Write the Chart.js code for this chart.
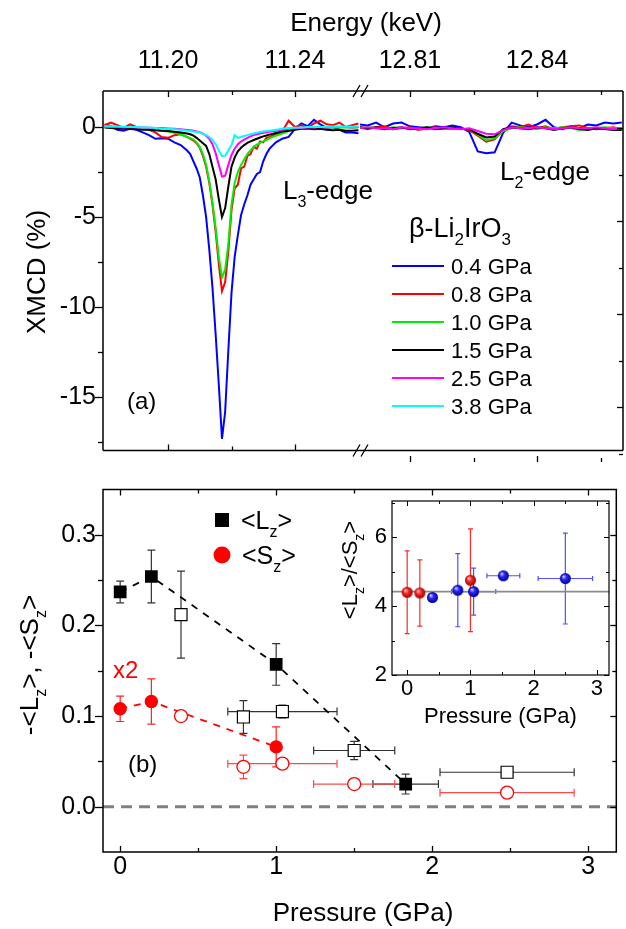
<!DOCTYPE html>
<html>
<head>
<meta charset="utf-8">
<script src="https://cdn.jsdelivr.net/npm/chart.js@4.4.1/dist/chart.umd.min.js"></script>
<style>
html,body{margin:0;padding:0;background:#ffffff;}
#wrap{position:relative;width:626px;height:929px;background:#ffffff;overflow:hidden;}
#wrap canvas{position:absolute;}
</style>
</head>
<body>
<div id="wrap">
  <canvas id="cA" width="626" height="470" style="left:0;top:0;"></canvas>
  <canvas id="cB" width="626" height="470" style="left:0;top:0;"></canvas>
  <canvas id="cC" width="626" height="459" style="left:0;top:470px;"></canvas>
  <canvas id="cD" width="296" height="260" style="left:330px;top:485px;"></canvas>
</div>
<script>
// ---------------- DATA ----------------
const pressureLabels = ['0.4 GPa','0.8 GPa','1.0 GPa','1.5 GPa','2.5 GPa','3.8 GPa'];

const energyL3 = [11.180,11.182,11.184,11.186,11.188,11.190,11.192,11.194,11.196,11.198,11.200,11.202,11.204,11.206,
  11.207,11.208,11.209,11.210,11.211,11.212,11.213,11.214,11.215,11.216,11.217,11.218,11.219,11.220,11.221,11.222,11.223,11.224,11.225,11.226,11.227,11.228,11.229,11.230,11.231,11.232,
  11.234,11.236,11.238,11.240,11.242,11.244,11.246,11.248,11.250,11.252,11.254,11.256,11.258,11.260];

const xmcdL3_04 = [0.15,0.05,-0.15,-0.2,-0.1,-0.15,-0.3,-0.45,-0.65,-0.62,-0.65,-0.85,-1.0,-1.3,
  -1.5,-1.9,-2.3,-2.8,-3.8,-5.0,-6.8,-8.9,-11.5,-14.3,-17.3,-15.8,-12.4,-9.2,-7.2,-6.0,-4.9,-4.3,-3.8,-3.2,-2.9,-2.6,-2.5,-1.9,-1.5,-1.2,
  -0.85,-0.65,-0.55,-0.1,0.2,0.05,0.4,0.15,-0.05,0.0,-0.15,-0.3,-0.3,-0.35];
const xmcdL3_08 = [0.1,0.25,0.1,-0.05,0.15,0.0,-0.1,-0.15,-0.3,-0.55,-0.6,-0.45,-0.4,-0.55,
  -0.65,-0.75,-0.9,-1.15,-1.6,-2.2,-3.1,-4.3,-5.8,-7.6,-9.1,-8.6,-6.9,-4.6,-3.4,-3.2,-2.3,-2.2,-1.6,-1.5,-1.1,-1.2,-0.8,-0.85,-0.6,-0.55,
  -0.4,-0.25,0.35,0.0,0.1,-0.05,0.2,0.35,0.15,0.1,0.25,0.0,0.1,0.2];
const xmcdL3_10 = [0.0,0.0,-0.02,-0.03,-0.05,-0.07,-0.1,-0.12,-0.15,-0.2,-0.25,-0.32,-0.4,-0.55,
  -0.62,-0.7,-0.85,-1.1,-1.5,-2.1,-3.0,-4.2,-5.6,-7.2,-8.35,-7.9,-6.5,-4.3,-3.1,-2.5,-2.1,-1.8,-1.5,-1.3,-1.1,-0.98,-0.88,-0.8,-0.72,-0.62,
  -0.48,-0.36,-0.22,-0.12,-0.06,-0.03,-0.02,-0.02,-0.02,-0.02,-0.03,-0.03,-0.02,-0.02];
const xmcdL3_15 = [-0.02,-0.05,-0.08,-0.1,-0.1,-0.12,-0.15,-0.15,-0.18,-0.2,-0.22,-0.26,-0.3,-0.36,
  -0.4,-0.48,-0.6,-0.75,-0.9,-1.05,-1.5,-2.2,-2.9,-4.0,-5.0,-4.5,-3.3,-2.2,-1.7,-1.35,-1.15,-1.0,-0.88,-0.8,-0.72,-0.65,-0.58,-0.52,-0.47,-0.42,
  -0.33,-0.25,-0.2,-0.15,-0.1,-0.08,-0.12,-0.1,-0.15,-0.18,-0.15,-0.2,-0.2,-0.18];
const xmcdL3_25 = [0.0,0.02,0.0,-0.02,0.0,-0.02,-0.03,-0.04,-0.05,-0.06,-0.08,-0.1,-0.12,-0.16,
  -0.18,-0.2,-0.24,-0.29,-0.36,-0.48,-0.65,-0.95,-1.45,-2.1,-2.75,-2.7,-2.1,-1.55,-1.2,-0.95,-0.8,-0.7,-0.6,-0.52,-0.45,-0.4,-0.36,-0.32,-0.29,-0.26,
  -0.2,-0.15,-0.1,-0.07,-0.05,-0.03,-0.02,0.0,-0.02,0.0,0.02,0.0,-0.02,0.0];
const xmcdL3_38 = [0.05,0.05,0.03,0.02,0.0,0.0,-0.02,-0.03,-0.05,-0.08,-0.1,-0.12,-0.15,-0.2,
  -0.22,-0.25,-0.27,-0.3,-0.38,-0.45,-0.55,-0.72,-0.95,-1.3,-1.62,-1.6,-1.3,-1.0,-0.45,-0.6,-0.55,-0.5,-0.45,-0.4,-0.36,-0.32,-0.28,-0.25,-0.22,-0.2,
  -0.15,-0.1,-0.06,-0.04,-0.02,0.0,0.02,0.0,0.02,0.03,0.02,0.03,0.02,0.03];

const energyL2 = [12.798,12.800,12.802,12.804,12.806,12.808,12.810,12.812,12.814,12.816,12.818,12.820,12.822,12.824,12.826,12.828,
  12.830,12.832,12.834,12.836,12.838,12.840,12.842,12.844,12.846,12.848,12.850,12.852,12.854,12.856,12.858,12.860];
const xmcdL2_04 = [0.2,0.15,0.3,0.05,0.25,0.3,0.1,0.05,0.0,0.1,0.05,0.15,0.05,-0.2,-1.25,-1.35,-1.3,-0.25,0.3,0.15,0.05,0.2,0.45,0.05,-0.05,0.1,0.0,0.2,0.15,0.3,0.25,0.3];
const xmcdL2_08 = [0.05,-0.05,0.05,0.1,-0.05,0.0,0.05,-0.1,0.0,0.05,-0.05,-0.05,0.0,-0.1,-0.4,-0.72,-0.6,-0.1,0.1,0.05,0.2,0.0,0.1,-0.05,0.05,0.1,0.15,0.0,-0.05,0.0,0.05,-0.05];
const xmcdL2_10 = [0.0,0.05,0.0,-0.05,0.05,0.0,0.0,-0.05,0.05,0.0,-0.05,0.0,-0.05,-0.05,-0.35,-0.65,-0.55,-0.15,0.0,0.05,0.0,-0.05,0.05,0.0,0.05,0.0,-0.1,-0.05,0.0,0.05,0.0,0.0];
const xmcdL2_15 = [0.05,0.0,0.05,-0.05,0.0,0.05,-0.05,0.0,0.05,-0.05,0.0,0.05,-0.05,-0.05,-0.3,-0.5,-0.45,-0.05,0.05,0.0,-0.05,0.05,0.0,-0.1,0.0,0.05,-0.05,-0.1,0.0,-0.05,-0.1,-0.1];
const xmcdL2_25 = [0.0,0.05,0.0,0.0,-0.05,0.05,0.0,0.0,-0.05,0.0,0.05,0.0,-0.05,0.0,-0.15,-0.3,-0.33,-0.1,0.05,0.0,0.0,0.05,0.0,-0.05,0.0,0.05,0.0,0.0,0.05,0.0,-0.05,0.0];

const xmcdTicksMajor = [-15,-10,-5,0];
const xmcdTicksMinor = [-17.5,-12.5,-7.5,-2.5];
const energyL3Major = [11.20,11.24];
const energyL3Minor = [11.22];
const energyL2Major = [12.81,12.84];
const energyL2Minor = [12.825,12.855];

// bottom panel: -<Lz>, -<Sz> vs pressure
const pLzFilled = [0, 0.2, 1.0, 1.83];
const lzFilled = [0.237, 0.254, 0.157, 0.025];
const lzFilledErrY = [0.012, 0.029, 0.023, 0.011];
const lzFilledErrX = [0, 0, 0, 0.21];
const pLzOpen = [0.39, 0.79, 1.04, 1.5, 2.48];
const lzOpen = [0.212, 0.099, 0.105, 0.062, 0.038];
const lzOpenErrY = [0.048, 0.018, 0.007, 0.01, 0.004];
const lzOpenErrX = [0, 0, 0.35, 0.26, 0.43];
const pSzFilled = [0, 0.2, 1.0];
const szFilled = [0.108, 0.116, 0.066];
const szFilledErrY = [0.014, 0.025, 0.022];
const pSzOpen = [0.39, 0.79, 1.04, 1.5, 2.48];
const szOpen = [0.100, 0.044, 0.0475, 0.025, 0.0155];
const szOpenErrY = [0, 0.013, 0, 0, 0.004];
const szOpenErrX = [0, 0, 0.35, 0.26, 0.43];
const pressureMajor = [0,1,2,3];
const pressureMinor = [0.5,1.5,2.5];
const momentMajor = [0,0.1,0.2,0.3];
const momentMinor = [0.05,0.15,0.25];

// inset: <Lz>/<Sz>
const pRatioBlue = [0.4, 0.8, 1.05, 1.52, 2.5];
const ratioBlue = [4.25, 4.46, 4.42, 4.88, 4.8];
const ratioBlueErrY = [0, 1.06, 0.68, 0, 1.32];
const ratioBlueErrX = [0, 0, 0.35, 0.26, 0.43];
const pRatioRed = [0, 0.2, 1.0];
const ratioRed = [4.4, 4.38, 4.75];
const ratioRedErrY = [1.2, 0.96, 1.49];
const ratioMean = 4.42;
const ratioMajor = [2,4,6];
const ratioMinor = [3,5,7];

// ---------------- HELPERS ----------------
const FONT = '"Liberation Sans", Arial, Helvetica, sans-serif';
Chart.defaults.font.family = FONT;
Chart.defaults.color = '#000';
const lineColors = ['#0000ff','#ff0000','#00ee00','#000000','#ff00ff','#00ffff'];

function pts(xs, ys) { return xs.map((x, i) => ({x: x, y: ys[i]})); }

function rich(ctx, x, y, parts, size, color, align, rot) {
  ctx.save();
  ctx.translate(x, y);
  if (rot) ctx.rotate(rot);
  ctx.fillStyle = color || '#000';
  ctx.textBaseline = 'alphabetic';
  ctx.textAlign = 'left';
  const sub = Math.round(size * 0.62);
  let w = 0;
  parts.forEach(p => { ctx.font = (p[1] ? sub : size) + 'px ' + FONT; w += ctx.measureText(p[0]).width; });
  let cx = align === 'center' ? -w / 2 : (align === 'right' ? -w : 0);
  parts.forEach(p => {
    ctx.font = (p[1] ? sub : size) + 'px ' + FONT;
    ctx.fillText(p[0], cx, p[1] ? size * 0.3 : 0);
    cx += ctx.measureText(p[0]).width;
  });
  ctx.restore();
}

function tickMarks(ctx, chart, scaleId, side, values, len, out) {
  const a = chart.chartArea;
  const sc = chart.scales[scaleId];
  values.forEach(v => {
    const p = Math.round(sc.getPixelForValue(v)) + 0.5;
    ctx.beginPath();
    if (side === 'left') { ctx.moveTo(a.left, p); ctx.lineTo(a.left + (out ? -len : len), p); }
    else if (side === 'right') { ctx.moveTo(a.right, p); ctx.lineTo(a.right + (out ? len : -len), p); }
    else if (side === 'top') { ctx.moveTo(p, a.top); ctx.lineTo(p, a.top + (out ? -len : len)); }
    else { ctx.moveTo(p, a.bottom); ctx.lineTo(p, a.bottom + (out ? len : -len)); }
    ctx.stroke();
  });
}

const errorBars = {
  id: 'errorBars',
  beforeDatasetsDraw(chart) {
    const ctx = chart.ctx;
    chart.data.datasets.forEach(ds => {
      if (!ds.errY && !ds.errX) return;
      const xs = chart.scales.x, ys = chart.scales.y;
      ctx.save();
      ctx.strokeStyle = ds.errColor;
      ctx.lineWidth = ds.errWidth || 1.2;
      const cap = ds.errCap || 4;
      ds.data.forEach((pt, i) => {
        const px = xs.getPixelForValue(pt.x), py = ys.getPixelForValue(pt.y);
        const ey = ds.errY ? ds.errY[i] : 0, ex = ds.errX ? ds.errX[i] : 0;
        ctx.beginPath();
        if (ey) {
          const y1 = ys.getPixelForValue(pt.y - ey), y2 = ys.getPixelForValue(pt.y + ey);
          ctx.moveTo(px, y1); ctx.lineTo(px, y2);
          ctx.moveTo(px - cap, y1); ctx.lineTo(px + cap, y1);
          ctx.moveTo(px - cap, y2); ctx.lineTo(px + cap, y2);
        }
        if (ex) {
          const x1 = xs.getPixelForValue(pt.x - ex), x2 = xs.getPixelForValue(pt.x + ex);
          ctx.moveTo(x1, py); ctx.lineTo(x2, py);
          ctx.moveTo(x1, py - cap); ctx.lineTo(x1, py + cap);
          ctx.moveTo(x2, py - cap); ctx.lineTo(x2, py + cap);
        }
        ctx.stroke();
      });
      ctx.restore();
    });
  }
};

function sphere(light, mid, dark, r) {
  const c = document.createElement('canvas');
  const d = 2 * r + 2;
  c.width = d; c.height = d;
  const g = c.getContext('2d');
  const grd = g.createRadialGradient(d / 2 - r * 0.35, d / 2 - r * 0.4, r * 0.05, d / 2, d / 2, r);
  grd.addColorStop(0, light); grd.addColorStop(0.4, mid); grd.addColorStop(1, dark);
  g.fillStyle = grd;
  g.beginPath(); g.arc(d / 2, d / 2, r, 0, Math.PI * 2); g.fill();
  return c;
}

function baseScale(min, max, major, fmt, fitProp, fitVal, pad, size, position, display) {
  return {
    type: 'linear', position: position, min: min, max: max, display: display === undefined ? true : display,
    afterBuildTicks: s => { s.ticks = major.map(v => ({value: v})); },
    afterFit: s => { s[fitProp] = fitVal; },
    grid: {display: false, drawTicks: false},
    border: {display: false},
    ticks: {padding: pad, autoSkip: false, maxRotation: 0, font: {size: size, lineHeight: 1}, color: '#000', callback: fmt}
  };
}
const common = {responsive: false, animation: false, devicePixelRatio: 1, plugins: {legend: {display: false}, tooltip: {enabled: false}}};

// ---------------- TOP PANEL, L3 part ----------------
const seriesL3 = [xmcdL3_04, xmcdL3_08, xmcdL3_10, xmcdL3_15, xmcdL3_25, xmcdL3_38];
new Chart(document.getElementById('cA'), {
  type: 'scatter',
  data: {datasets: seriesL3.map((s, i) => ({
    label: pressureLabels[i], data: pts(energyL3, s), showLine: true, pointRadius: 0,
    borderColor: lineColors[i], borderWidth: 2, tension: 0, order: 6 - i
  }))},
  options: Object.assign({}, common, {
    layout: {padding: {left: 0, top: 0, right: 266, bottom: 8}},
    scales: {
      x: baseScale(11.1795, 11.2605, energyL3Major, v => v.toFixed(2), 'height', 91, 17, 25, 'top'),
      y: baseScale(-17.95, 2, xmcdTicksMajor, v => String(v), 'width', 103, 7, 25, 'left')
    }
  }),
  plugins: [{
    id: 'decorA',
    afterDraw(chart) {
      const ctx = chart.ctx, a = chart.chartArea;
      ctx.save();
      ctx.strokeStyle = '#000'; ctx.lineWidth = 1.5;
      ctx.beginPath();
      ctx.moveTo(a.left, a.top); ctx.lineTo(a.left, a.bottom);
      ctx.moveTo(a.left, a.top); ctx.lineTo(623, a.top);
      ctx.moveTo(a.left, a.bottom); ctx.lineTo(623, a.bottom);
      ctx.moveTo(623, a.top); ctx.lineTo(623, a.bottom);
      ctx.stroke();
      ctx.lineWidth = 1.3;
      tickMarks(ctx, chart, 'y', 'left', xmcdTicksMajor, 8, true);
      tickMarks(ctx, chart, 'y', 'left', xmcdTicksMinor, 5, true);
      tickMarks(ctx, chart, 'x', 'top', energyL3Major, 6, false);
      tickMarks(ctx, chart, 'x', 'top', energyL3Minor, 4, false);
      tickMarks(ctx, chart, 'x', 'bottom', energyL3Major, 6, false);
      tickMarks(ctx, chart, 'x', 'bottom', energyL3Minor, 4, false);
      // axis break marks
      ctx.lineWidth = 1.3;
      [a.top, a.bottom].forEach(y => {
        ctx.beginPath();
        ctx.moveTo(353, y + 6); ctx.lineTo(360, y - 6);
        ctx.moveTo(361, y + 6); ctx.lineTo(368, y - 6);
        ctx.stroke();
      });
      ctx.restore();
      rich(ctx, 366, 31, [['Energy (keV)']], 26, '#000', 'center');
      rich(ctx, 45, 272, [['XMCD (%)']], 26, '#000', 'center', -Math.PI / 2);
      rich(ctx, 127, 409, [['(a)']], 24, '#000', 'left');
      rich(ctx, 283, 199, [['L'], ['3', 1], ['-edge']], 26, '#000', 'left');
    }
  }]
});

// ---------------- TOP PANEL, L2 part ----------------
const seriesL2 = [xmcdL2_04, xmcdL2_08, xmcdL2_10, xmcdL2_15, xmcdL2_25];
new Chart(document.getElementById('cB'), {
  type: 'scatter',
  data: {datasets: seriesL2.map((s, i) => ({
    label: pressureLabels[i], data: pts(energyL2, s), showLine: true, pointRadius: 0,
    borderColor: lineColors[i], borderWidth: 2, tension: 0, order: 6 - i
  }))},
  options: Object.assign({}, common, {
    layout: {padding: {left: 360, top: 0, right: 3, bottom: 8}},
    scales: {
      x: baseScale(12.7982, 12.8603, energyL2Major, v => v.toFixed(2), 'height', 91, 17, 25, 'top'),
      y: baseScale(-17.95, 2, xmcdTicksMajor, v => String(v), 'width', 0, 0, 25, 'left', false)
    }
  }),
  plugins: [{
    id: 'decorB',
    afterDraw(chart) {
      const ctx = chart.ctx;
      ctx.save();
      ctx.strokeStyle = '#000'; ctx.lineWidth = 1.3;
      tickMarks(ctx, chart, 'x', 'top', energyL2Major, 6, false);
      tickMarks(ctx, chart, 'x', 'top', energyL2Minor, 4, false);
      tickMarks(ctx, chart, 'x', 'bottom', energyL2Major, 6, false);
      tickMarks(ctx, chart, 'x', 'bottom', energyL2Minor, 4, false);
      tickMarks(ctx, chart, 'y', 'right', xmcdTicksMajor, 6, false);
      tickMarks(ctx, chart, 'y', 'right', xmcdTicksMinor, 4, false);
      // legend
      const rows = [266, 294, 322, 350, 378, 406];
      pressureLabels.forEach((lab, i) => {
        ctx.strokeStyle = lineColors[i]; ctx.lineWidth = 2;
        ctx.beginPath(); ctx.moveTo(392, rows[i]); ctx.lineTo(444, rows[i]); ctx.stroke();
        rich(ctx, 451, rows[i] + 8, [[lab]], 22, '#000', 'left');
      });
      ctx.restore();
      rich(ctx, 500, 180, [['L'], ['2', 1], ['-edge']], 26, '#000', 'left');
      rich(ctx, 409, 237, [['\u03b2-Li'], ['2', 1], ['IrO'], ['3', 1]], 27, '#000', 'left');
    }
  }]
});

// ---------------- BOTTOM PANEL ----------------
new Chart(document.getElementById('cC'), {
  type: 'scatter',
  data: {datasets: [
    {data: pts(pLzFilled, lzFilled), errY: lzFilledErrY, errX: lzFilledErrX, errColor: '#333', errCap: 4,
     pointStyle: 'rect', pointRadius: 9, backgroundColor: '#000', borderColor: '#000', borderWidth: 0, order: 1},
    {data: pts(pLzOpen, lzOpen), errY: lzOpenErrY, errX: lzOpenErrX, errColor: '#333', errCap: 4,
     pointStyle: 'rect', pointRadius: 8.5, backgroundColor: '#fff', borderColor: '#000', borderWidth: 1.2, order: 2},
    {data: pts(pSzFilled, szFilled), errY: szFilledErrY, errColor: '#ff2020', errCap: 4,
     pointStyle: 'circle', pointRadius: 6.7, backgroundColor: '#ff0000', borderColor: '#ff0000', borderWidth: 0, order: 3},
    {data: pts(pSzOpen, szOpen), errY: szOpenErrY, errX: szOpenErrX, errColor: '#ff4a4a', errCap: 4,
     pointStyle: 'circle', pointRadius: 6.5, backgroundColor: '#fff', borderColor: '#ff0000', borderWidth: 1.3, order: 4},
    {data: pts(pLzFilled, lzFilled), showLine: true, pointRadius: 0, borderColor: '#000', borderWidth: 1.8, borderDash: [7, 7], order: 5},
    {data: pts(pSzFilled, szFilled), showLine: true, pointRadius: 0, borderColor: '#ff0000', borderWidth: 1.8, borderDash: [7, 7], order: 6},
    {data: [{x: -0.11, y: 0}, {x: 3.18, y: 0}], showLine: true, pointRadius: 0, borderColor: '#808080', borderWidth: 3, borderDash: [11, 7], order: 7}
  ]},
  options: Object.assign({}, common, {
    layout: {padding: {left: 0, top: 9, right: 3, bottom: 0}},
    scales: {
      x: baseScale(-0.11, 3.18, pressureMajor, v => String(v), 'height', 77, 3, 25, 'bottom'),
      y: baseScale(-0.05, 0.35, momentMajor, v => v.toFixed(1), 'width', 103, 7, 25, 'left')
    }
  }),
  plugins: [errorBars, {
    id: 'decorC',
    afterDraw(chart) {
      const ctx = chart.ctx, a = chart.chartArea;
      ctx.save();
      ctx.strokeStyle = '#000'; ctx.lineWidth = 1.5;
      ctx.strokeRect(a.left, a.top, a.right - a.left, a.bottom - a.top);
      ctx.lineWidth = 1.3;
      tickMarks(ctx, chart, 'y', 'left', momentMajor, 8, true);
      tickMarks(ctx, chart, 'y', 'left', momentMinor, 5, true);
      tickMarks(ctx, chart, 'y', 'right', momentMajor, 6, false);
      tickMarks(ctx, chart, 'y', 'right', momentMinor, 4, false);
      tickMarks(ctx, chart, 'x', 'top', pressureMajor, 6, false);
      tickMarks(ctx, chart, 'x', 'top', pressureMinor, 4, false);
      tickMarks(ctx, chart, 'x', 'bottom', pressureMajor, 6, false);
      tickMarks(ctx, chart, 'x', 'bottom', pressureMinor, 4, false);
      // legend
      ctx.fillStyle = '#000';
      ctx.fillRect(222 - 7, 50 - 7, 14, 14);
      ctx.fillStyle = '#ff0000';
      ctx.beginPath(); ctx.arc(222, 85, 8.5, 0, Math.PI * 2); ctx.fill();
      ctx.restore();
      rich(ctx, 241, 59, [['<L'], ['z', 1], ['>']], 25, '#000', 'left');
      rich(ctx, 242, 94, [['<S'], ['z', 1], ['>']], 25, '#000', 'left');
      rich(ctx, 363, 451, [['Pressure (GPa)']], 26, '#000', 'center');
      rich(ctx, 38, 195, [['-<L'], ['z', 1], ['>, -<S'], ['z', 1], ['>']], 26, '#000', 'center', -Math.PI / 2);
      rich(ctx, 128, 302, [['(b)']], 24, '#000', 'left');
      rich(ctx, 113, 208, [['x2']], 24, '#ff0000', 'left');
    }
  }]
});

// ---------------- INSET ----------------
const blueBall = sphere('#d8d8ff', '#2a2aff', '#000090', 5.5);
const redBall = sphere('#ffd8d8', '#ff2a2a', '#a00000', 5.5);
new Chart(document.getElementById('cD'), {
  type: 'scatter',
  data: {datasets: [
    {data: pts(pRatioRed, ratioRed), errY: ratioRedErrY, errColor: '#ff2a2a', errCap: 2.5, errWidth: 1.2,
     pointStyle: redBall, pointRadius: 5.5, order: 2},
    {data: pts(pRatioBlue, ratioBlue), errY: ratioBlueErrY, errX: ratioBlueErrX, errColor: '#5050ff', errCap: 2.5, errWidth: 1.2,
     pointStyle: blueBall, pointRadius: 5.5, order: 1},
    {data: [{x: -0.24, y: ratioMean}, {x: 3.19, y: ratioMean}], showLine: true, pointRadius: 0, borderColor: '#8a8a8a', borderWidth: 1.6, order: 3}
  ]},
  options: Object.assign({}, common, {
    layout: {padding: {left: 0, top: 8, right: 17, bottom: 0}},
    scales: {
      x: baseScale(-0.24, 3.19, pressureMajor, v => String(v), 'height', 70, 3, 22, 'bottom'),
      y: baseScale(2, 7.05, ratioMajor, v => String(v), 'width', 62, 5, 22, 'left')
    }
  }),
  plugins: [errorBars, {
    id: 'decorD',
    afterDraw(chart) {
      const ctx = chart.ctx, a = chart.chartArea;
      ctx.save();
      ctx.strokeStyle = '#000'; ctx.lineWidth = 1.2;
      ctx.strokeRect(a.left, a.top, a.right - a.left, a.bottom - a.top);
      ctx.lineWidth = 1;
      tickMarks(ctx, chart, 'y', 'left', ratioMajor, 5, false);
      tickMarks(ctx, chart, 'y', 'left', ratioMinor, 3, false);
      tickMarks(ctx, chart, 'y', 'right', ratioMajor, 5, false);
      tickMarks(ctx, chart, 'y', 'right', ratioMinor, 3, false);
      tickMarks(ctx, chart, 'x', 'bottom', pressureMajor, 5, false);
      tickMarks(ctx, chart, 'x', 'bottom', pressureMinor, 3, false);
      tickMarks(ctx, chart, 'x', 'top', pressureMajor, 5, false);
      tickMarks(ctx, chart, 'x', 'top', pressureMinor, 3, false);
      ctx.restore();
      rich(ctx, 170.5, 238, [['Pressure (GPa)']], 22, '#000', 'center');
      rich(ctx, 27, 85, [['<L'], ['z', 1], ['>/<S'], ['z', 1], ['>']], 22, '#000', 'center', -Math.PI / 2);
    }
  }]
});
</script>
</body>
</html>
